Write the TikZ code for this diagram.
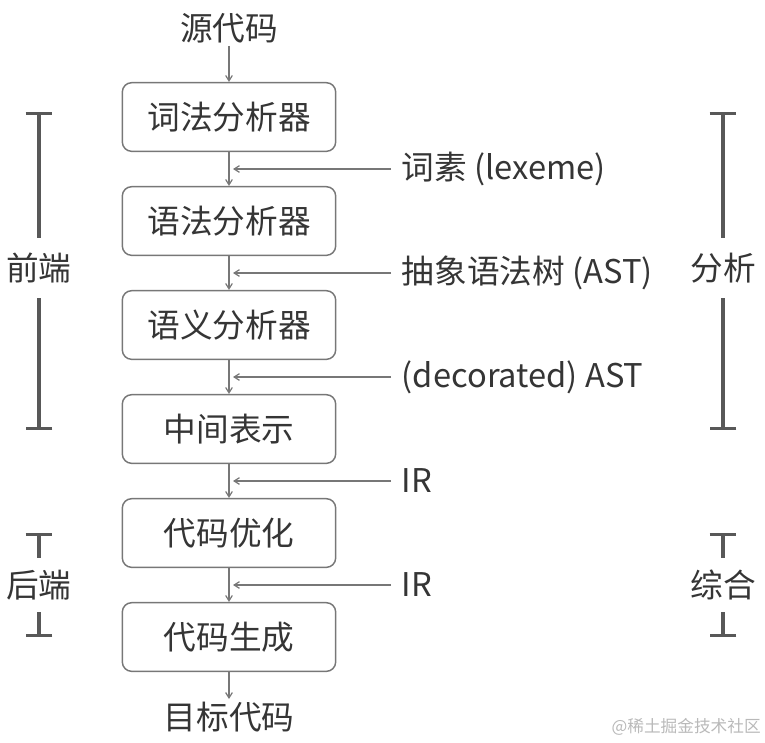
\documentclass[tikz,border=0pt]{standalone}
\usepackage{fontspec}
\setmainfont{Noto Sans CJK SC}
\usetikzlibrary{
  arrows.meta,  % for arrow tips and bar caps
  positioning,  % for below=of
  calc          % for ($$)
}
\definecolor{inkgray}{HTML}{353535}
\definecolor{linegray}{HTML}{777777}
\definecolor{bargray}{HTML}{585858}
\tikzstyle{stage} = [rectangle, draw=linegray, line width=1.1pt, text centered, rounded corners=7pt, minimum width=160pt, minimum height=51.5pt, text=inkgray]
\tikzstyle{flow} = [draw=linegray, line width=0.9pt, -{Straight Barb[length=4pt,width=5pt]}]
\tikzstyle{artifact} = [text=inkgray, inner sep=2pt]
\tikzstyle{phase} = [text=inkgray, inner xsep=2pt, inner ysep=9pt]
\tikzstyle{phasebar} = [draw=bargray, line width=2.4pt]

\begin{document}
\begin{tikzpicture}[x=0.75pt, y=-0.75pt, node distance=25.4pt, font=\fontsize{24.5}{28}\selectfont]
\useasboundingbox (0,0) rectangle (765,743);

% pipeline stages
\node[artifact](source) at (229,28) {源代码};
\node[stage](lexer) at (229,117) {词法分析器};
\node[stage](parser)[below=of lexer]{语法分析器};
\node[stage](semantic)[below=of parser]{语义分析器};
\node[stage](irgen)[below=of semantic]{中间表示};
\node[stage](optimizer)[below=of irgen]{代码优化};
\node[stage](codegen)[below=of optimizer]{代码生成};
\node[artifact](target) at (229,717) {目标代码};

\draw[flow] (source) -- (lexer);
\draw[flow] (lexer) -- (parser);
\draw[flow] (parser) -- (semantic);
\draw[flow] (semantic) -- (irgen);
\draw[flow] (irgen) -- (optimizer);
\draw[flow] (optimizer) -- (codegen);
\draw[flow] (codegen) -- (target);

% what flows between the stages
\coordinate (m1) at ($(lexer.south)!0.5!(parser.north)$);
\coordinate (m2) at ($(parser.south)!0.5!(semantic.north)$);
\coordinate (m3) at ($(semantic.south)!0.5!(irgen.north)$);
\coordinate (m4) at ($(irgen.south)!0.5!(optimizer.north)$);
\coordinate (m5) at ($(optimizer.south)!0.5!(codegen.north)$);
\node[artifact, anchor=west](lexeme) at ($(m1)+(170,0)$) {词素 (lexeme)};
\node[artifact, anchor=west](ast) at ($(m2)+(170,0)$) {抽象语法树 (AST)};
\node[artifact, anchor=west](decorated) at ($(m3)+(170,0)$) {(decorated) AST};
\node[artifact, anchor=west](irone) at ($(m4)+(170,0)$) {IR};
\node[artifact, anchor=west](irtwo) at ($(m5)+(170,0)$) {IR};
\draw[flow, shorten <=6pt] (lexeme.west) -- ([xshift=3pt]m1);
\draw[flow, shorten <=6pt] (ast.west) -- ([xshift=3pt]m2);
\draw[flow, shorten <=6pt] (decorated.west) -- ([xshift=3pt]m3);
\draw[flow, shorten <=6pt] (irone.west) -- ([xshift=3pt]m4);
\draw[flow, shorten <=6pt] (irtwo.west) -- ([xshift=3pt]m5);

% phase brackets, left and right
\coordinate (fronttop) at (39,112);
\coordinate (frontbot) at (39,430);
\node[phase, inner ysep=11pt](frontend) at (39,268) {前端};
\draw[phasebar, {Bar[width=20pt]}-] (fronttop) -- (frontend);
\draw[phasebar, -{Bar[width=20pt]}] (frontend) -- (frontbot);

\coordinate (backtop) at (39,533);
\coordinate (backbot) at (39,637);
\node[phase](backend) at (39,585) {后端};
\draw[phasebar, {Bar[width=20pt]}-] (backtop) -- (backend);
\draw[phasebar, -{Bar[width=20pt]}] (backend) -- (backbot);

\coordinate (analysistop) at (723,112);
\coordinate (analysisbot) at (723,430);
\node[phase, inner ysep=11pt](analysis) at (723,268) {分析};
\draw[phasebar, {Bar[width=20pt]}-] (analysistop) -- (analysis);
\draw[phasebar, -{Bar[width=20pt]}] (analysis) -- (analysisbot);

\coordinate (synthtop) at (723,533);
\coordinate (synthbot) at (723,637);
\node[phase](synthesis) at (723,585) {综合};
\draw[phasebar, {Bar[width=20pt]}-] (synthtop) -- (synthesis);
\draw[phasebar, -{Bar[width=20pt]}] (synthesis) -- (synthbot);

\node[text=gray!55, font=\fontsize{12.5}{14}\selectfont, anchor=east, inner sep=0pt](mark) at (761,727) {@稀土掘金技术社区};
\end{tikzpicture}
\end{document}
